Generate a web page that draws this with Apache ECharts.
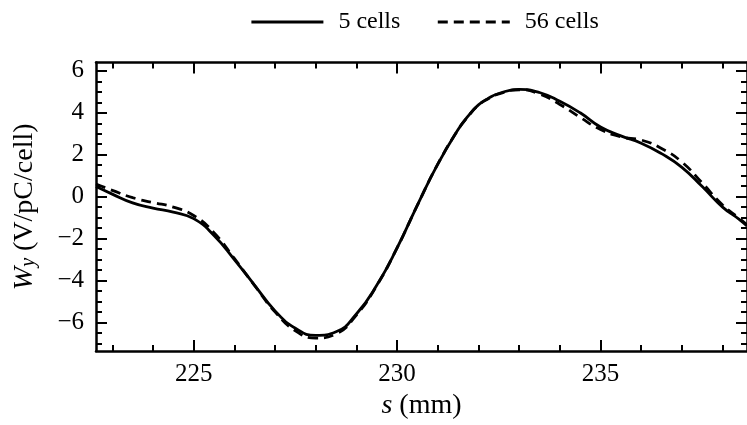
<!DOCTYPE html>
<html>
<head>
    <meta charset="utf-8">
    <title>Wake Wy</title>
    <script src="https://cdn.jsdelivr.net/npm/echarts@6/dist/echarts.min.js"></script>
    <style>
        html, body { margin: 0; padding: 0; background: #fff; }
        #main { width: 747px; height: 425px; }
    </style>
</head>
<body>
    <div id="main"></div>
    <script type="text/javascript">
// s positions (mm)
var sVals = [222.6, 223, 223.5, 224, 224.5, 225, 225.5, 226, 226.5, 227, 227.5, 228, 228.5,
             229, 229.5, 230, 230.5, 231, 231.5, 231.75, 232, 232.25, 232.5, 233, 233.5, 234,
             234.5, 235, 235.5, 236, 236.5, 237, 237.5, 238, 238.4, 238.6];
// Wy (V/pC/cell)
var wy5 = [0.48, 0.12, -0.3, -0.55, -0.74, -1.05, -1.85, -3.0, -4.23, -5.45, -6.28, -6.62, -6.45,
           -5.6, -4.23, -2.45, -0.4, 1.55, 3.2, 3.85, 4.38, 4.7, 4.92, 5.12, 4.97, 4.55,
           4.0, 3.32, 2.9, 2.55, 2.05, 1.4, 0.48, -0.5, -1.07, -1.4];
var wy56 = [0.6, 0.3, -0.05, -0.28, -0.5, -0.9, -1.72, -2.95, -4.25, -5.5, -6.4, -6.75, -6.55,
            -5.65, -4.25, -2.45, -0.4, 1.55, 3.2, 3.84, 4.36, 4.68, 4.9, 5.1, 4.9, 4.4,
            3.78, 3.2, 2.85, 2.7, 2.3, 1.65, 0.65, -0.4, -1.02, -1.35];

var xTicks = [225, 230, 235];
var xMinor = [223, 224, 226, 227, 228, 229, 231, 232, 233, 234, 236, 237, 238];
var yTicks = [-6, -4, -2, 0, 2, 4, 6];
var yMinor = [-7, -6.5, -5.5, -5, -4.5, -3.5, -3, -2.5, -1.5, -1, -0.5, 0.5, 1, 1.5,
              2.5, 3, 3.5, 4.5, 5, 5.5];

var xMin = 222.6, xMax = 238.6, yMin = -7.37, yMax = 6.4;
var font = "'Liberation Serif', 'Times New Roman', serif";

function pairs(xs, ys) {
    return xs.map(function (x, i) { return [x, ys[i]]; });
}

function xAx(pos, ticks, len, showLine, showLabel) {
    return {
        type: 'value', position: pos, min: xMin, max: xMax,
        axisLine: { show: showLine, onZero: false, lineStyle: { color: '#000', width: 2.5 } },
        axisTick: { show: true, inside: true, length: len, customValues: ticks,
                    lineStyle: { color: '#000', width: 2 } },
        axisLabel: { show: showLabel, customValues: ticks, margin: 11,
                     fontFamily: font, fontSize: 25, color: '#000' },
        splitLine: { show: false }
    };
}
function yAx(pos, ticks, len, showLine, showLabel) {
    return {
        type: 'value', position: pos, min: yMin, max: yMax,
        axisLine: { show: showLine, onZero: false, lineStyle: { color: '#000', width: 2.5 } },
        axisTick: { show: true, inside: true, length: len, customValues: ticks,
                    lineStyle: { color: '#000', width: 2 } },
        axisLabel: { show: showLabel, customValues: ticks, margin: 12,
                     fontFamily: font, fontSize: 25, color: '#000',
                     formatter: function (v) { return v < 0 ? '\u2212' + (-v) : '' + v; } },
        splitLine: { show: false }
    };
}

var xMain = xAx('bottom', xTicks, 11, true, true);
xMain.name = '{i|s} (mm)';
xMain.nameLocation = 'middle';
xMain.nameGap = 29;
xMain.nameTextStyle = {
    fontFamily: font, fontSize: 28, color: '#000',
    rich: { i: { fontFamily: font, fontSize: 28, fontStyle: 'italic', color: '#000' } }
};

var yMain = yAx('left', yTicks, 11, true, true);
yMain.name = '{i|W}{sub|y} (V/pC/cell)';
yMain.nameLocation = 'middle';
yMain.nameGap = 57;
yMain.nameTextStyle = {
    fontFamily: font, fontSize: 28, color: '#000',
    rich: {
        i: { fontFamily: font, fontSize: 28, fontStyle: 'italic', color: '#000' },
        sub: { fontFamily: font, fontSize: 20, fontStyle: 'italic', color: '#000',
               verticalAlign: 'bottom', padding: [9, 0, 0, 0] }
    }
};

var myChart = echarts.init(document.getElementById('main'));

var option = {
    animation: false,
    backgroundColor: '#fff',
    grid: { left: 96, top: 62.5, width: 659, height: 290.5 },
    legend: {
        left: 245, top: 5,
        itemWidth: 72, itemHeight: 14, itemGap: 36,
        itemStyle: { opacity: 0 },
        lineStyle: { width: 2.8 },
        textStyle: { fontFamily: font, fontSize: 24, color: '#000', padding: [0, 0, 0, 10] },
        data: ['5 cells', '56 cells']
    },
    xAxis: [
        xMain,
        xAx('bottom', xMinor, 6, false, false),
        xAx('top', xTicks, 11, true, false),
        xAx('top', xMinor, 6, false, false)
    ],
    yAxis: [
        yMain,
        yAx('left', yMinor, 6, false, false),
        yAx('right', yTicks, 11, true, false),
        yAx('right', yMinor, 6, false, false)
    ],
    series: [
        {
            name: '5 cells', type: 'line', smooth: 0.5, symbol: 'none',
            xAxisIndex: 0, yAxisIndex: 0,
            lineStyle: { color: '#000', width: 2.8, type: 'solid' },
            itemStyle: { color: '#000' },
            data: pairs(sVals, wy5)
        },
        {
            name: '56 cells', type: 'line', smooth: 0.5, symbol: 'none',
            xAxisIndex: 0, yAxisIndex: 0,
            lineStyle: { color: '#000', width: 2.8, type: [10, 6] },
            itemStyle: { color: '#000' },
            data: pairs(sVals, wy56)
        }
    ]
};

myChart.setOption(option);
    </script>
</body>
</html>
